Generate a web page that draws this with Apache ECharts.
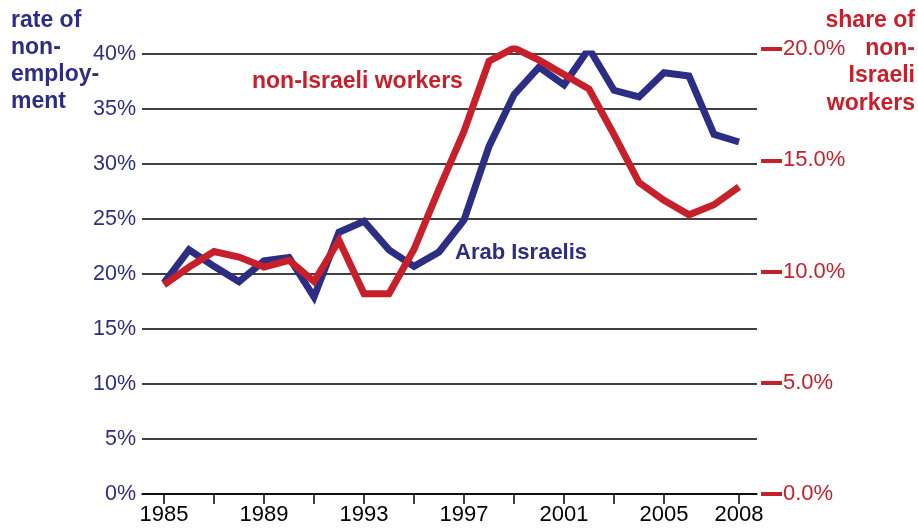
<!DOCTYPE html>
<html>
<head>
<meta charset="utf-8">
<script src="https://cdn.jsdelivr.net/npm/echarts@6/dist/echarts.min.js"></script>
<style>
html,body{margin:0;padding:0;background:#fff;}
#c{width:918px;height:531px;}
</style>
</head>
<body>
<div id="c"></div>
<script>
var years = [1985,1986,1987,1988,1989,1990,1991,1992,1993,1994,1995,1996,1997,1998,1999,2000,2001,2002,2003,2004,2005,2006,2007,2008];
var arabIsraelis = [19.2,22.2,20.7,19.3,21.2,21.5,17.9,23.8,24.8,22.2,20.7,22.0,24.9,31.6,36.3,38.8,37.2,40.5,36.7,36.1,38.3,38.0,32.7,32.0];
var nonIsraeliWorkers = [9.4,10.2,10.9,10.65,10.2,10.5,9.55,11.4,9.0,9.0,11.0,13.7,16.3,19.45,20.05,19.5,18.85,18.2,16.15,14.0,13.2,12.55,13.0,13.8];
var xTickYears = [1985,1987,1989,1991,1993,1995,1997,1999,2001,2003,2005,2008];
var xLabelYears = [1985,1989,1993,1997,2001,2005,2008];
var leftTitle = 'rate of\nnon-\nemploy-\nment';
var rightTitle = 'share of\nnon-\nIsraeli\nworkers';
var redLabel = 'non-Israeli workers';
var blueLabel = 'Arab Israelis';

var BLUE = '#2c2e84';
var RED = '#c7202b';
var FONT = '"Liberation Sans", Arial, Helvetica, sans-serif';

function pairs(v){ return years.map(function(y,i){ return [y, v[i]]; }); }

var chart = echarts.init(document.getElementById('c'), null, {renderer:'canvas'});
var xMin = 1984.12, xMax = 2008.72;
chart.setOption({
  animation: false,
  backgroundColor: '#fff',
  grid: [
    {left: 142, right: 161, top: 54, bottom: 37},
    {left: 142, right: 161, top: 49, bottom: 37}
  ],
  xAxis: [
    {
      type: 'value', gridIndex: 0, min: xMin, max: xMax,
      axisLine: {show: true, lineStyle: {color: '#000', width: 1.5}},
      axisTick: {show: true, customValues: xTickYears, length: 10, lineStyle: {color: '#000', width: 1.5}},
      axisLabel: {show: true, customValues: xLabelYears, color: '#000', fontSize: 22, fontFamily: FONT, margin: 10,
        formatter: function(v){ return String(Math.round(v)); }},
      splitLine: {show: false}
    },
    {
      type: 'value', gridIndex: 1, min: xMin, max: xMax, show: false
    }
  ],
  yAxis: [
    {
      type: 'value', gridIndex: 0, position: 'left', min: 0, max: 40, interval: 5,
      axisLine: {show: false}, axisTick: {show: false},
      axisLabel: {color: BLUE, fontSize: 21.5, fontFamily: FONT, margin: 6, formatter: '{value}%'},
      splitLine: {show: true, lineStyle: {color: '#000', width: 1.5}}
    },
    {
      type: 'value', gridIndex: 1, position: 'right', min: 0, max: 20, interval: 5, offset: 4,
      axisLine: {show: false},
      axisTick: {show: true, inside: false, length: 21, lineStyle: {color: RED, width: 4}},
      axisLabel: {color: RED, fontSize: 22, fontFamily: FONT, margin: 22,
        formatter: function(v){ return v.toFixed(1) + '%'; }},
      splitLine: {show: false}
    }
  ],
  series: [
    {
      type: 'line', name: 'Arab Israelis', xAxisIndex: 0, yAxisIndex: 0,
      data: pairs(arabIsraelis), showSymbol: false, symbol: 'none',
      lineStyle: {color: BLUE, width: 7, cap: 'butt', join: 'miter'}, z: 3
    },
    {
      type: 'line', name: 'non-Israeli workers', xAxisIndex: 1, yAxisIndex: 1,
      data: pairs(nonIsraeliWorkers), showSymbol: false, symbol: 'none',
      lineStyle: {color: RED, width: 7, cap: 'butt', join: 'miter'}, z: 4
    }
  ],
  graphic: [
    {type: 'text', x: 11, y: 7, style: {text: leftTitle, fill: BLUE, font: 'bold 23px ' + FONT, lineHeight: 27, align: 'left', verticalAlign: 'top'}},
    {type: 'text', x: 915, y: 7, style: {text: rightTitle, fill: RED, font: 'bold 23px ' + FONT, lineHeight: 27.5, align: 'right', verticalAlign: 'top'}},
    {type: 'text', x: 252, y: 70, style: {text: redLabel, fill: RED, font: 'bold 23px ' + FONT, verticalAlign: 'top'}},
    {type: 'text', x: 455, y: 242, style: {text: blueLabel, fill: BLUE, font: 'bold 22px ' + FONT, verticalAlign: 'top'}}
  ]
});
</script>
</body>
</html>
